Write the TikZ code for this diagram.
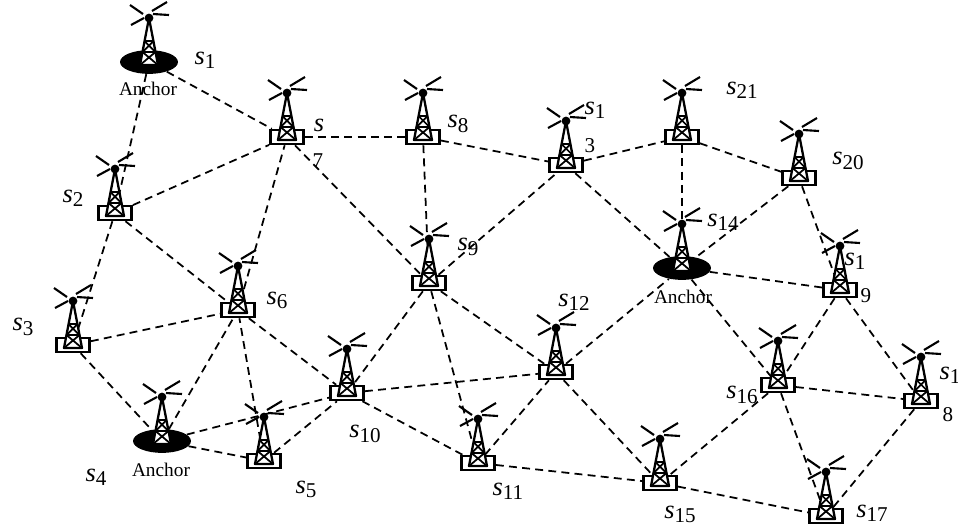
\documentclass[tikz,border=0pt]{standalone}
\usepackage{fontspec}
\setmainfont{Liberation Serif}
\newcommand{\sitename}[1]{\textit{s}\raisebox{-0.35ex}{\fontsize{12}{14}\selectfont #1}}
\newcommand{\sitedigit}[1]{\fontsize{12}{14}\selectfont #1}
\usetikzlibrary{shapes.geometric}
\tikzset{
  sitebox/.style={draw,line width=1.4pt,fill=white,minimum width=19pt,minimum height=8pt,inner sep=0pt},
  anchorblob/.style={ellipse,fill=black,minimum width=33pt,minimum height=13.5pt,inner sep=0pt},
  link/.style={line width=1pt,dash pattern=on 4.5pt off 3pt},
  sitelabel/.style={font=\fontsize{15}{17}\selectfont,inner sep=0pt},
  anchorlabel/.style={font=\fontsize{11}{13}\selectfont,inner sep=0pt},
  tower/.pic={
    \draw[line width=1.3pt,fill=white,line join=round] (0,-44) -- (-9,3) -- (9,3) -- cycle;
    \draw[line width=1pt] (-4.5,-21) -- (4.5,-21) (-6.5,-10) -- (6.5,-10)
      (-4.5,-21) -- (6.5,-10) (4.5,-21) -- (-6.5,-10) (-6.5,-10) -- (9,3) (6.5,-10) -- (-9,3);
    \fill (0,-44) circle (2.5pt);
    \draw[line width=1.2pt] (-19,-57) -- (-6,-48) (3,-51) -- (18,-60) (4,-48) -- (20,-47) (-18,-37) -- (-5,-44);
  }
}
\begin{document}
\begin{tikzpicture}[x=0.02cm,y=-0.02cm]
\useasboundingbox (0,0) rectangle (958,529);
\node[anchorblob] (s1) at (149,62) {};
\node[sitebox] (s2) at (115,213) {};
\node[sitebox] (s3) at (73,345) {};
\node[anchorblob] (s4) at (162,441) {};
\node[sitebox] (s5) at (264,461) {};
\node[sitebox] (s6) at (238,310) {};
\node[sitebox] (s7) at (287,137) {};
\node[sitebox] (s8) at (423,137) {};
\node[sitebox] (s9) at (429,283) {};
\node[sitebox] (s10) at (347,393) {};
\node[sitebox] (s11) at (478,463) {};
\node[sitebox] (s12) at (556,372) {};
\node[sitebox] (s13) at (566,165) {};
\node[anchorblob] (s14) at (682,268) {};
\node[sitebox] (s15) at (660,483) {};
\node[sitebox] (s16) at (778,385) {};
\node[sitebox] (s17) at (826,516) {};
\node[sitebox] (s18) at (921,401) {};
\node[sitebox] (s19) at (840,290) {};
\node[sitebox] (s20) at (799,178) {};
\node[sitebox] (s21) at (682,137) {};
\foreach \a/\b in {s1/s2,s1/s7,s2/s7,s2/s6,s2/s3,s3/s6,s3/s4,s4/s6,s4/s5,s4/s10,s5/s6,s5/s10,s6/s7,s6/s10,
  s7/s8,s7/s9,s8/s9,s8/s13,s9/s13,s9/s10,s9/s11,s9/s12,s10/s11,s10/s12,s11/s12,s11/s15,s12/s14,s12/s15,
  s13/s21,s13/s14,s21/s14,s21/s20,s20/s14,s20/s19,s14/s19,s14/s16,s19/s16,s19/s18,s16/s18,s16/s15,s16/s17,s15/s17,s18/s17}
  \draw[link] (\a) -- (\b);
\foreach \n in {s1,s2,s3,s4,s5,s6,s7,s8,s9,s10,s11,s12,s13,s14,s15,s16,s17,s18,s19,s20,s21}
  \pic at (\n) {tower};
\node[anchorlabel] (a1) at (148,89) {Anchor};
\node[anchorlabel] (a4) at (161,470) {Anchor};
\node[anchorlabel] (a14) at (683,297) {Anchor};
\node[sitelabel] (l1) at (205,60) {\sitename{1}};
\node[sitelabel] (l2) at (73,198) {\sitename{2}};
\node[sitelabel] (l3) at (23,327) {\sitename{3}};
\node[sitelabel] (l4) at (96,477) {\sitename{4}};
\node[sitelabel] (l5) at (306,489) {\sitename{5}};
\node[sitelabel] (l6) at (277,300) {\sitename{6}};
\node[sitelabel] (l7) at (319,125) {\textit{s}};
\node[sitelabel] (l7b) at (318,161) {\sitedigit{7}};
\node[sitelabel] (l8) at (458,124) {\sitename{8}};
\node[sitelabel] (l9) at (468,247) {\sitename{9}};
\node[sitelabel] (l10) at (365,434) {\sitename{10}};
\node[sitelabel] (l11) at (508,491) {\sitename{11}};
\node[sitelabel] (l12) at (574,302) {\sitename{12}};
\node[sitelabel] (l13) at (595,110) {\sitename{1}};
\node[sitelabel] (l13b) at (590,146) {\sitedigit{3}};
\node[sitelabel] (l14) at (723,222) {\sitename{14}};
\node[sitelabel] (l15) at (680,514) {\sitename{15}};
\node[sitelabel] (l16) at (742,395) {\sitename{16}};
\node[sitelabel] (l17) at (872,513) {\sitename{17}};
\node[sitelabel] (l18) at (950,375) {\sitename{1}};
\node[sitelabel] (l18b) at (948,415) {\sitedigit{8}};
\node[sitelabel] (l19) at (855,261) {\sitename{1}};
\node[sitelabel] (l19b) at (866,296) {\sitedigit{9}};
\node[sitelabel] (l20) at (848,161) {\sitename{20}};
\node[sitelabel] (l21) at (742,90) {\sitename{21}};
\end{tikzpicture}
\end{document}
